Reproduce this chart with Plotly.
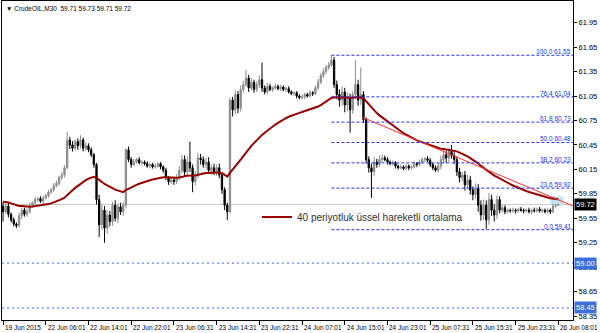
import plotly.graph_objects as go

# ---------------- data ----------------
closes = [
    59.63, 59.70, 59.60, 59.53, 59.48, 59.46, 59.58, 59.65, 59.60, 59.63,
    59.71, 59.74, 59.78, 59.79, 59.76, 59.80, 59.83, 59.87, 59.90, 59.95,
    59.98, 60.05, 60.08, 60.17, 60.51, 60.45, 60.41, 60.49, 60.44, 60.51,
    60.41, 60.44, 60.39, 60.33, 60.21, 59.78, 59.47, 59.65, 59.43, 59.59,
    59.51, 59.71, 59.55, 59.69, 59.63, 59.71, 60.39, 60.27, 60.21, 60.24,
    60.27, 60.23, 60.24, 60.22, 60.19, 60.21, 60.18, 60.19, 60.22, 60.18,
    60.14, 60.05, 60.00, 60.02, 60.00, 60.05, 60.14, 60.27, 60.12, 60.24,
    60.17, 60.00, 60.08, 60.29, 60.27, 60.21, 60.24, 60.14, 60.17, 60.12,
    60.17, 60.08, 59.90, 59.71, 59.63, 61.00, 60.88, 61.07, 60.90, 61.13,
    61.19, 61.27, 61.15, 61.22, 61.13, 61.19, 61.25, 61.15, 61.10, 61.17,
    61.13, 61.15, 61.17, 61.14, 61.16, 61.13, 61.14, 61.10, 61.08, 61.09,
    61.05, 61.03, 61.04, 61.07, 61.05, 61.09, 61.08, 61.15, 61.22, 61.30,
    61.35, 61.40, 61.43, 61.49, 61.19, 61.07, 61.00, 61.10, 60.94, 61.03,
    60.88, 61.07, 61.19, 61.00, 61.07, 60.76, 60.27, 60.17, 60.12, 60.24,
    60.21, 60.27, 60.29, 60.27, 60.24, 60.22, 60.23, 60.19, 60.17, 60.18,
    60.16, 60.19, 60.17, 60.18, 60.22, 60.21, 60.24, 60.27, 60.28, 60.26,
    60.21, 60.17, 60.14, 60.19, 60.27, 60.33, 60.29, 60.37, 60.32, 60.27,
    60.12, 60.05, 60.08, 59.96, 60.02, 59.90, 59.84, 59.92, 59.71, 59.59,
    59.71, 59.53, 59.78, 59.65, 59.59, 59.78, 59.65, 59.68, 59.63, 59.65,
    59.64, 59.65, 59.64, 59.66, 59.65, 59.64, 59.65, 59.63, 59.65, 59.64,
    59.66, 59.64, 59.65, 59.63, 59.65, 59.63, 59.70, 59.71, 59.72,
]
wick_up = [
    0.05, 0.03, 0.04, 0.02, 0.03, 0.02, 0.04, 0.03, 0.03, 0.04,
    0.03, 0.02, 0.03, 0.02, 0.03, 0.03, 0.02, 0.03, 0.02, 0.03,
    0.03, 0.02, 0.04, 0.03, 0.10, 0.04, 0.05, 0.03, 0.04, 0.06,
    0.03, 0.04, 0.03, 0.03, 0.02, 0.02, 0.06, 0.07, 0.05, 0.06,
    0.05, 0.04, 0.06, 0.04, 0.05, 0.04, 0.02, 0.04, 0.03, 0.04,
    0.02, 0.03, 0.02, 0.02, 0.03, 0.02, 0.02, 0.03, 0.02, 0.02,
    0.02, 0.03, 0.02, 0.03, 0.02, 0.04, 0.05, 0.06, 0.05, 0.07,
    0.25, 0.04, 0.05, 0.06, 0.05, 0.04, 0.05, 0.06, 0.04, 0.05,
    0.04, 0.05, 0.03, 0.03, 0.03, 0.03, 0.04, 0.05, 0.04, 0.05,
    0.05, 0.10, 0.04, 0.05, 0.03, 0.04, 0.05, 0.21, 0.03, 0.04,
    0.03, 0.02, 0.03, 0.02, 0.03, 0.02, 0.02, 0.03, 0.02, 0.02,
    0.02, 0.02, 0.03, 0.02, 0.02, 0.03, 0.02, 0.03, 0.04, 0.03,
    0.04, 0.03, 0.04, 0.06, 0.04, 0.05, 0.06, 0.07, 0.05, 0.06,
    0.05, 0.04, 0.30, 0.06, 0.33, 0.04, 0.03, 0.04, 0.05, 0.06,
    0.04, 0.05, 0.04, 0.03, 0.03, 0.02, 0.03, 0.02, 0.02, 0.03,
    0.02, 0.03, 0.02, 0.02, 0.03, 0.02, 0.03, 0.03, 0.02, 0.03,
    0.03, 0.02, 0.03, 0.04, 0.05, 0.06, 0.05, 0.04, 0.08, 0.04,
    0.04, 0.05, 0.04, 0.05, 0.06, 0.05, 0.04, 0.06, 0.05, 0.06,
    0.07, 0.06, 0.08, 0.06, 0.07, 0.05, 0.04, 0.03, 0.03, 0.02,
    0.02, 0.03, 0.02, 0.02, 0.03, 0.02, 0.02, 0.03, 0.02, 0.03,
    0.02, 0.03, 0.02, 0.02, 0.03, 0.02, 0.03, 0.02, 0.01,
]
wick_dn = [
    0.12, 0.03, 0.04, 0.03, 0.03, 0.03, 0.02, 0.04, 0.03, 0.03,
    0.02, 0.03, 0.02, 0.03, 0.02, 0.03, 0.02, 0.03, 0.02, 0.03,
    0.02, 0.03, 0.03, 0.03, 0.02, 0.05, 0.04, 0.03, 0.05, 0.03,
    0.04, 0.03, 0.03, 0.03, 0.04, 0.06, 0.15, 0.06, 0.18, 0.07,
    0.06, 0.05, 0.04, 0.06, 0.04, 0.05, 0.04, 0.03, 0.04, 0.02,
    0.02, 0.02, 0.03, 0.02, 0.02, 0.03, 0.02, 0.02, 0.02, 0.03,
    0.03, 0.03, 0.04, 0.03, 0.04, 0.03, 0.03, 0.04, 0.06, 0.04,
    0.05, 0.13, 0.05, 0.04, 0.06, 0.04, 0.05, 0.04, 0.06, 0.04,
    0.05, 0.04, 0.05, 0.06, 0.10, 0.02, 0.08, 0.05, 0.06, 0.04,
    0.04, 0.03, 0.05, 0.03, 0.04, 0.03, 0.04, 0.05, 0.03, 0.03,
    0.02, 0.03, 0.02, 0.02, 0.03, 0.02, 0.03, 0.02, 0.02, 0.03,
    0.03, 0.02, 0.02, 0.03, 0.02, 0.02, 0.03, 0.02, 0.03, 0.02,
    0.03, 0.03, 0.03, 0.02, 0.04, 0.06, 0.08, 0.07, 0.09, 0.07,
    0.28, 0.05, 0.06, 0.07, 0.06, 0.04, 0.05, 0.06, 0.32, 0.05,
    0.04, 0.03, 0.03, 0.02, 0.03, 0.02, 0.02, 0.03, 0.02, 0.02,
    0.02, 0.02, 0.03, 0.02, 0.02, 0.03, 0.02, 0.02, 0.03, 0.02,
    0.03, 0.03, 0.02, 0.03, 0.04, 0.04, 0.06, 0.05, 0.04, 0.05,
    0.05, 0.06, 0.05, 0.07, 0.05, 0.06, 0.07, 0.05, 0.08, 0.07,
    0.06, 0.11, 0.06, 0.07, 0.08, 0.05, 0.04, 0.03, 0.03, 0.02,
    0.02, 0.02, 0.03, 0.02, 0.02, 0.03, 0.02, 0.02, 0.03, 0.02,
    0.02, 0.02, 0.03, 0.02, 0.02, 0.03, 0.02, 0.02, 0.01,
]
first_open = 59.70
ema_seed = 59.76
ema_period = 40

time_labels = ["19 Jun 2015", "22 Jun 06:01", "22 Jun 14:01", "22 Jun 22:01",
               "23 Jun 06:31", "23 Jun 14:31", "23 Jun 22:31", "24 Jun 07:01",
               "24 Jun 15:01", "24 Jun 23:01", "25 Jun 07:31", "25 Jun 15:31",
               "25 Jun 23:31", "26 Jun 08:01"]
bars_per_label = 16

y_ticks = [61.95, 61.65, 61.35, 61.05, 60.75, 60.45, 60.15, 59.85,
           59.55, 59.25, 58.95, 58.65, 58.35]

fib_pct = [100.0, 76.4, 61.8, 50.0, 38.2, 23.6, 0.0]
fib_price = [61.55, 61.04, 60.73, 60.48, 60.23, 59.92, 59.41]
fib_start_bar = 123

trend_bars = [134.5, 213.5]
trend_prices = [60.79, 59.70]

h_levels = [59.00, 58.45]
bid_price = 59.72
highlight_bars = [205, 210]
highlight_prices = [59.73, 59.82]

title_text = "CrudeOIL,M30  59.71 59.73 59.71 59.72"
legend_text = "40 periyotluk üssel hareketli ortalama"

x_range = [-0.4, 213.5]
y_range = [58.302, 62.216]

# ---------------- derived ----------------
n = len(closes)
bars = list(range(n))
opens = [first_open] + closes[:-1]
highs = [max(o, c) + w for o, c, w in zip(opens, closes, wick_up)]
lows = [min(o, c) - w for o, c, w in zip(opens, closes, wick_dn)]
alpha = 2.0 / (ema_period + 1)
ema = []
prev = ema_seed
for c in closes:
    prev = prev + alpha * (c - prev)
    ema.append(prev)

FONT = "Liberation Sans"
BLUE = "#2233ee"

fig = go.Figure()

fig.add_trace(go.Candlestick(
    x=bars, open=opens, high=highs, low=lows, close=closes,
    increasing=dict(line=dict(color="#8c8c8c", width=1), fillcolor="#8c8c8c"),
    decreasing=dict(line=dict(color="#000000", width=1), fillcolor="#000000"),
    whiskerwidth=0, showlegend=False, hoverinfo="skip"))

fig.add_trace(go.Scatter(
    x=bars, y=ema, mode="lines", name=legend_text,
    line=dict(color="#990000", width=2), showlegend=True, hoverinfo="skip"))

fig.add_trace(go.Scatter(
    x=trend_bars, y=trend_prices, mode="lines",
    line=dict(color="#ff3030", width=1), showlegend=False, hoverinfo="skip"))

shapes = []
# bid line
shapes.append(dict(type="line", xref="paper", x0=0, x1=1, yref="y",
                   y0=bid_price, y1=bid_price, line=dict(color="#c8c8c8", width=1),
                   layer="below"))
# horizontal levels
for lv in h_levels:
    shapes.append(dict(type="line", xref="paper", x0=0, x1=1, yref="y",
                       y0=lv, y1=lv, line=dict(color="#4466ee", width=1, dash="2px,3px")))
# fibonacci levels
for p in fib_price:
    shapes.append(dict(type="line", xref="x", x0=fib_start_bar, x1=x_range[1], yref="y",
                       y0=p, y1=p, line=dict(color=BLUE, width=1, dash="3px,2px")))
# small highlight rectangle
shapes.append(dict(type="rect", xref="x", x0=highlight_bars[0], x1=highlight_bars[1],
                   yref="y", y0=highlight_prices[0], y1=highlight_prices[1],
                   fillcolor="#bfe6f5", line=dict(width=0), layer="below"))

annotations = []
# fib labels
for pct, p in zip(fib_pct, fib_price):
    annotations.append(dict(xref="paper", x=1, xanchor="right", yref="y", y=p,
                            yanchor="bottom", text=f"{pct:.1f} {p:.2f}", showarrow=False,
                            font=dict(family=FONT, size=6.5, color=BLUE), borderpad=0,
                            xshift=-1, yshift=-1))
# axis price boxes
for lv in h_levels:
    annotations.append(dict(xref="paper", x=1, xanchor="left", yref="y", y=lv,
                            yanchor="middle", text=f"{lv:.2f}", showarrow=False,
                            bgcolor="#3c6fe0", font=dict(family=FONT, size=7.5, color="white"),
                            borderpad=1, xshift=1))
annotations.append(dict(xref="paper", x=1, xanchor="left", yref="y", y=bid_price,
                        yanchor="middle", text=f"{bid_price:.2f}", showarrow=False,
                        bgcolor="#000000", font=dict(family=FONT, size=7.5, color="white"),
                        borderpad=1, xshift=1))
# time labels (left aligned at tick)
for k, lab in enumerate(time_labels):
    annotations.append(dict(xref="x", x=k * bars_per_label, xanchor="left",
                            yref="paper", y=0, yanchor="top", yshift=-2, xshift=0,
                            text=lab, showarrow=False,
                            font=dict(family=FONT, size=6.5, color="#000000")))
# title
annotations.append(dict(xref="paper", x=0, xanchor="left", yref="paper", y=1,
                        yanchor="top", xshift=2, yshift=-2,
                        text="▼ " + title_text, showarrow=False,
                        font=dict(family=FONT, size=6.5, color="#000000")))

fig.update_layout(
    width=600, height=333,
    margin=dict(l=2, r=27, t=1, b=13),
    paper_bgcolor="white", plot_bgcolor="white",
    shapes=shapes, annotations=annotations,
    showlegend=True,
    legend=dict(x=0.4466, y=0.323, xanchor="left", yanchor="middle",
                bgcolor="rgba(0,0,0,0)", font=dict(family=FONT, size=10, color="#333333"),
                itemwidth=30),
    xaxis=dict(range=x_range, rangeslider=dict(visible=False), showgrid=False,
               zeroline=False, showline=True, linecolor="#000000", linewidth=1, mirror=True,
               tickmode="array", tickvals=[k * bars_per_label for k in range(len(time_labels))],
               ticks="outside", ticklen=4, tickcolor="#000000", showticklabels=False),
    yaxis=dict(range=y_range, side="right", showgrid=False, zeroline=False,
               showline=True, linecolor="#000000", linewidth=1, mirror=True,
               tickmode="array", tickvals=y_ticks, ticktext=[f"{v:.2f}" for v in y_ticks],
               ticks="outside", ticklen=3, tickcolor="#000000",
               tickfont=dict(family=FONT, size=7.5, color="#000000")),
)

fig.write_html("out.html")
